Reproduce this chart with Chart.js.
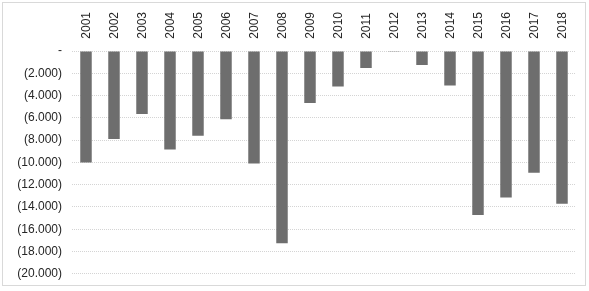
<!DOCTYPE html>
<html>
<head>
<meta charset="utf-8">
<script src="https://cdn.jsdelivr.net/npm/chart.js@4/dist/chart.umd.min.js"></script>
<style>
html,body{margin:0;padding:0;background:#fff;}
#wrap{position:relative;width:589px;height:291px;overflow:hidden;}
.xl{position:absolute;bottom:252px;width:14px;line-height:14px;writing-mode:vertical-rl;transform:rotate(180deg);font:12px "Liberation Sans";color:#262626;white-space:nowrap;text-align:left;}
</style>
</head>
<body>
<div id="wrap"><canvas id="c" width="589" height="291"></canvas></div>
<script>
const years = ["2001","2002","2003","2004","2005","2006","2007","2008","2009","2010","2011","2012","2013","2014","2015","2016","2017","2018"];
const values = [-10000,-7900,-5650,-8850,-7600,-6130,-10100,-17250,-4670,-3190,-1520,-60,-1250,-3100,-14730,-13150,-10920,-13720];
const yTickMin = -20000;
const yTickMax = 0;
const yTickStep = 2000;

function fmt(v){
  if (v === 0) return "-";
  const s = Math.abs(v).toString().replace(/\B(?=(\d{3})+(?!\d))/g, ".");
  return v < 0 ? "(" + s + ")" : s;
}

const frame = {
  id: 'frame',
  afterDraw(chart){
    const ctx = chart.ctx;
    ctx.save();
    ctx.strokeStyle = '#d9d9d9';
    ctx.lineWidth = 1;
    ctx.strokeRect(2.5, 2.5, 583, 283);
    ctx.restore();
  }
};

// vertical category labels placed at the x scale's own tick positions
const vLabels = {
  id: 'vLabels',
  afterRender(chart){
    const wrap = document.getElementById('wrap');
    wrap.querySelectorAll('.xl').forEach(e => e.remove());
    const sx = chart.scales.x;
    sx.ticks.forEach((t, i) => {
      const d = document.createElement('div');
      d.className = 'xl';
      d.textContent = chart.data.labels[t.value];
      d.style.left = (sx.getPixelForTick(i) - 7) + 'px';
      wrap.appendChild(d);
    });
  }
};

new Chart(document.getElementById('c'), {
  type: 'bar',
  data: {
    labels: years,
    datasets: [{
      data: values,
      backgroundColor: '#6e6e6e',
      borderWidth: 0,
      barPercentage: 0.41,
      categoryPercentage: 1.0
    }]
  },
  options: {
    responsive: false,
    animation: false,
    devicePixelRatio: 1,
    layout: { padding: { left: 0, right: 13, top: 0, bottom: 16 } },
    plugins: { legend: { display: false }, tooltip: { enabled: false } },
    scales: {
      x: {
        position: 'top',
        grid: { display: false, drawTicks: false },
        border: { display: false },
        ticks: { display: false },
        afterFit(s){ s.height = 51; }
      },
      y: {
        min: yTickMin, max: yTickMax,
        grid: { color: '#d4d4d4', drawTicks: false, lineWidth: 1 },
        border: { display: false, dash: [1, 1] },
        ticks: {
          stepSize: yTickStep, padding: 10,
          color: '#262626', font: { family: 'Liberation Sans', size: 12 },
          callback: (v) => fmt(v)
        },
        afterFit(s){ s.width = 72; }
      }
    }
  },
  plugins: [frame, vLabels]
});
</script>
</body>
</html>
